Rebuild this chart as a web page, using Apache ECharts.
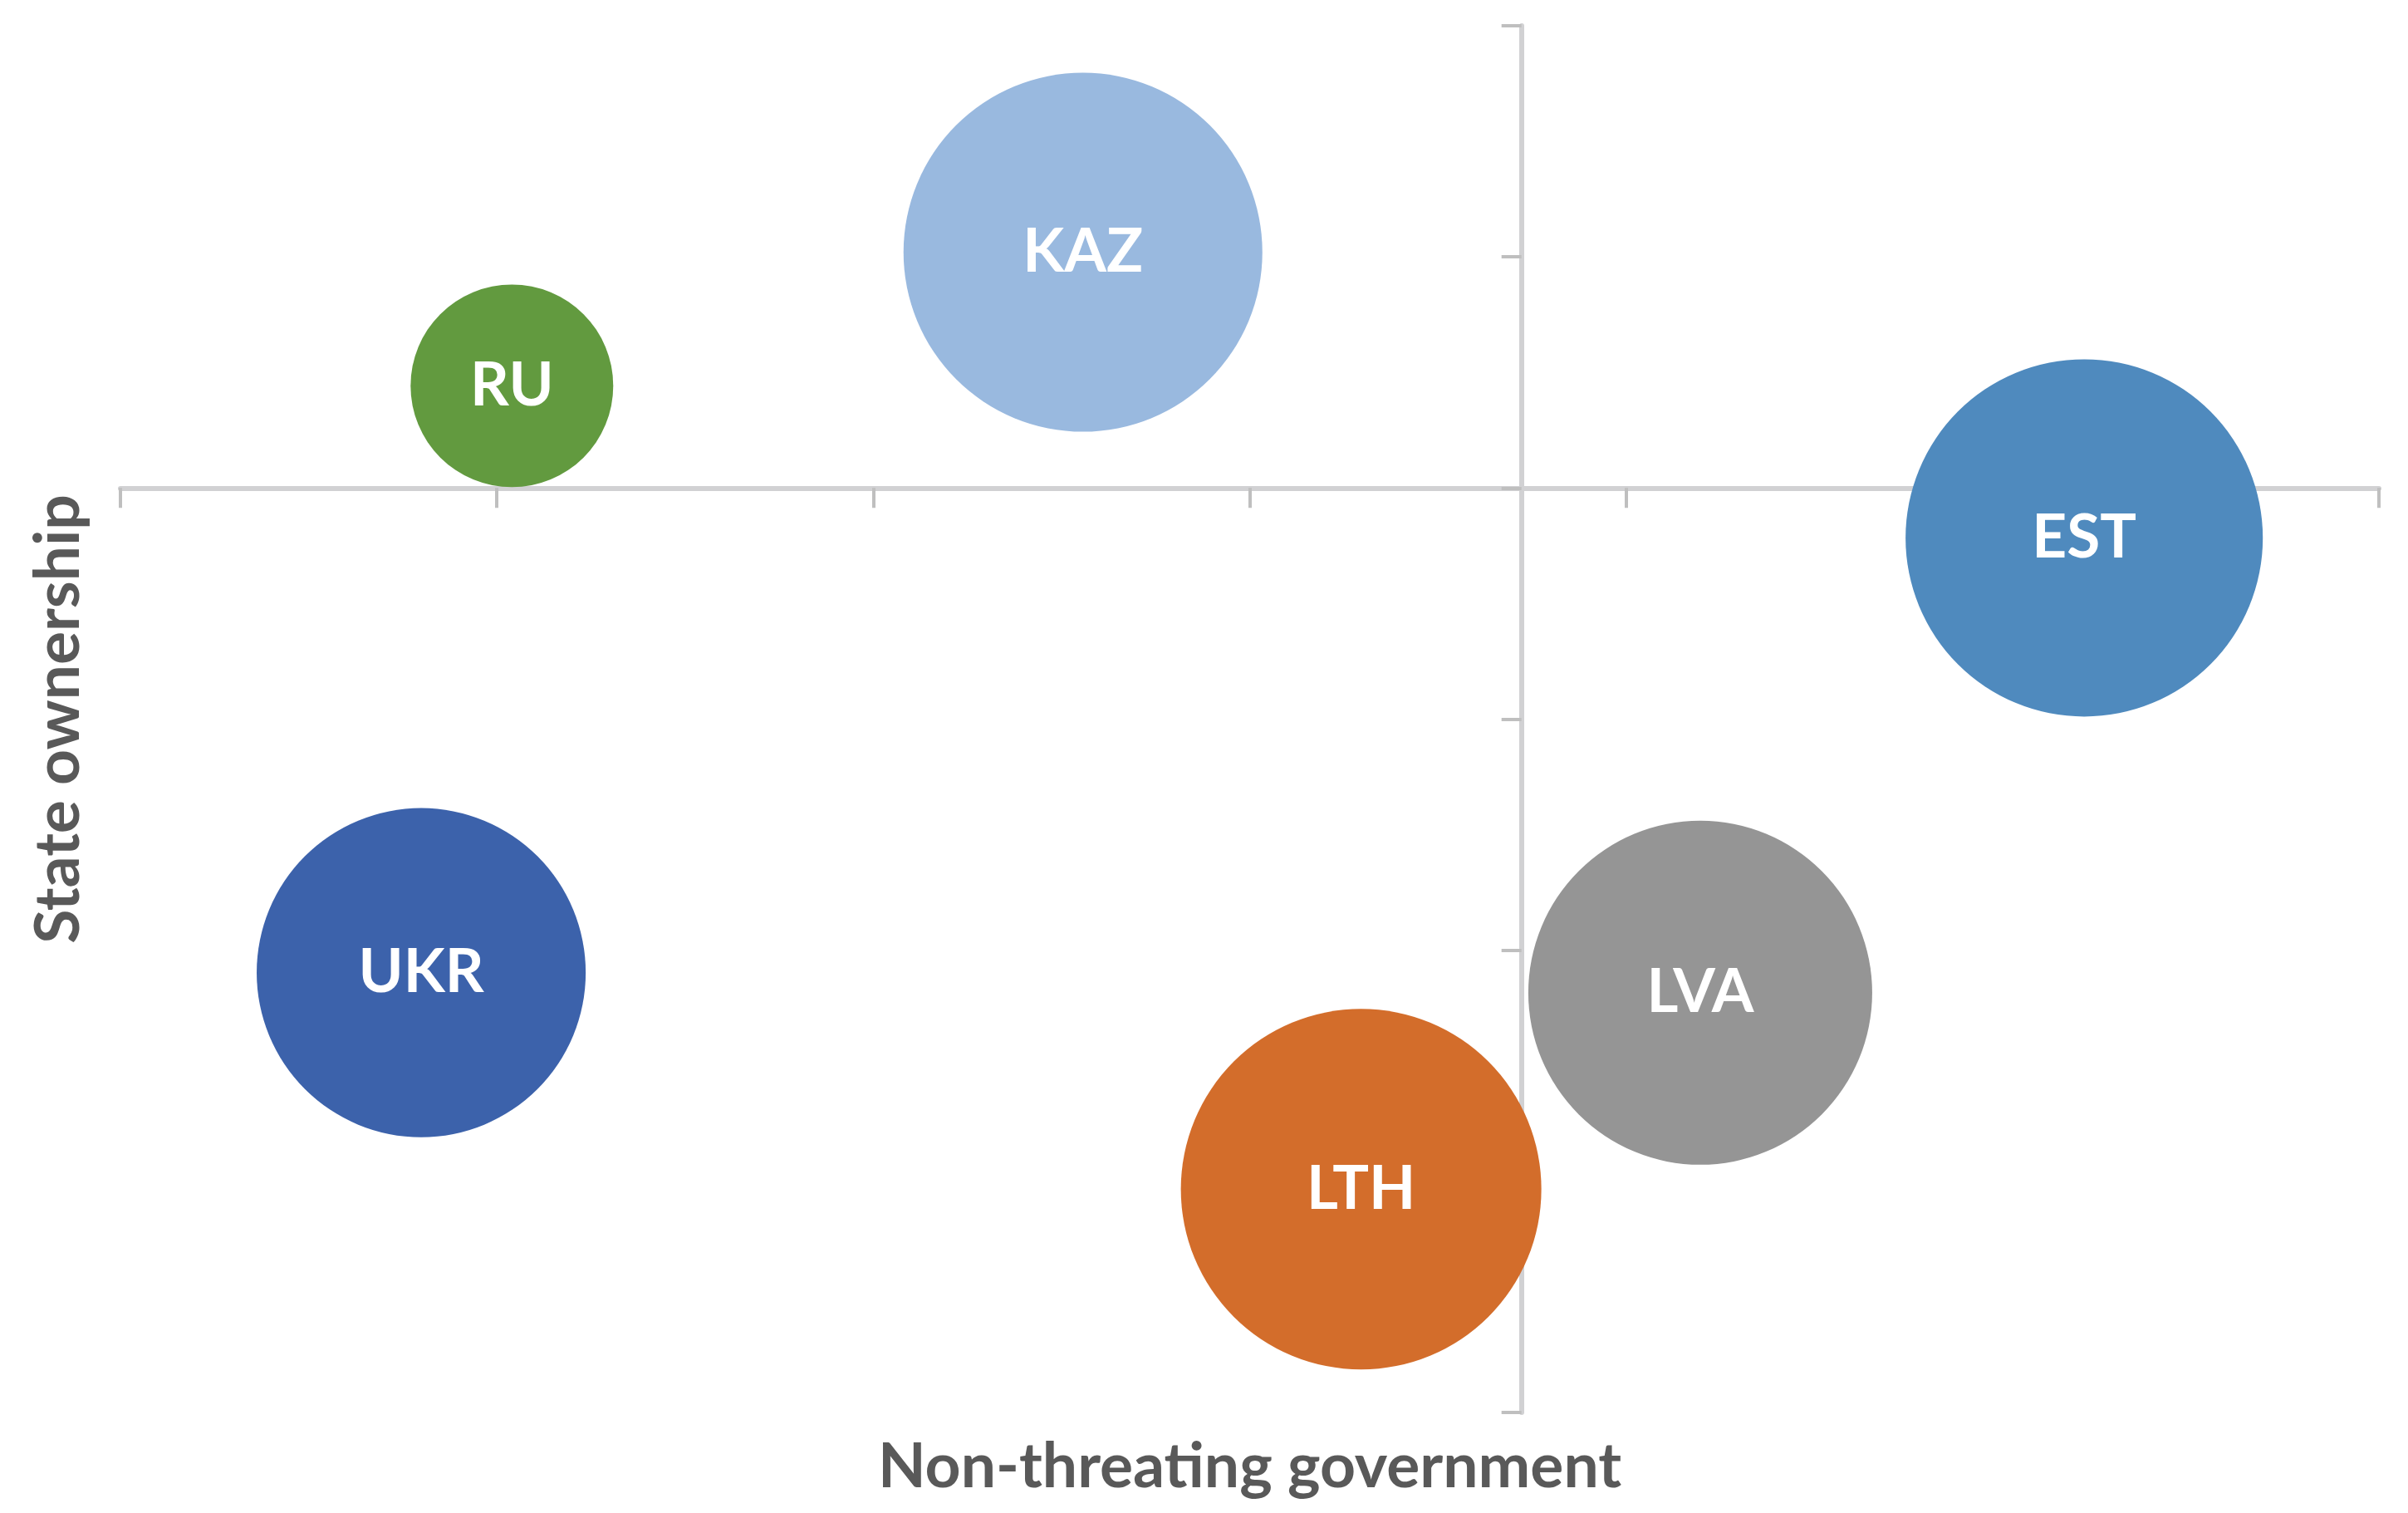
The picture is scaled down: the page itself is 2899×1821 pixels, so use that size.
<!DOCTYPE html>
<html><head><meta charset="utf-8">
<script src="https://cdn.jsdelivr.net/npm/echarts@6/dist/echarts.min.js"></script>
<style>html,body{margin:0;padding:0;background:#fff}#c{width:2899px;height:1821px}
#fp{position:absolute;left:-9999px;top:0;font-family:Lato;font-weight:bold;font-size:73px}</style>
</head><body><div id="fp">Non-threating government UKR</div><div id="c"></div>
<script>
// ---- data ----
const countries = ['RU', 'KAZ', 'EST', 'UKR', 'LVA', 'LTH'];
const xValues = [1.04, 2.557, 5.217, 0.799, 4.197, 3.296];      // Non-threating government
const yValues = [0.442, 1.02, -0.216, -2.097, -2.184, -3.034];  // State ownership
const bubbleSizes = [3.16, 9.91, 9.82, 8.33, 9.10, 10];          // bubble area values
const colors = ['#629A3F', '#99B9DF', '#4F8ABE', '#3C62AB', '#959595', '#D36D2B'];
const xRange = [0, 6];
const xInterval = 1;
const xCross = 3.722;   // x value where the vertical axis crosses
const yRange = [-4, 2];
const yInterval = 1;    // horizontal axis crosses at y = 0
const xTitle = 'Non-threating government';
const yTitle = 'State ownership';

// ---- layout ----
const grid = { left: 145, top: 31, width: 2719, height: 1669, containLabel: false, outerBoundsMode: 'none' };
const maxBubbleDiameter = 434;
const maxSize = Math.max(...bubbleSizes);
const yAxisShift = grid.width * (xCross - xRange[0]) / (xRange[1] - xRange[0]);

const axisLineStyle = { color: '#D1D1D3', width: 6 };
const tickStyle = { show: true, length: 24, lineStyle: { color: '#BFBFBF', width: 4 } };
const fontFam = 'Lato, "Open Sans", sans-serif';

function render() {
  const chart = echarts.init(document.getElementById('c'), null, { renderer: 'canvas' });
  chart.setOption({
    animation: false,
    backgroundColor: '#ffffff',
    grid: grid,
    xAxis: {
      type: 'value', min: xRange[0], max: xRange[1], interval: xInterval,
      axisLine: { show: true, onZero: true, lineStyle: axisLineStyle },
      axisTick: tickStyle,
      axisLabel: { show: false },
      splitLine: { show: false }
    },
    yAxis: {
      type: 'value', min: yRange[0], max: yRange[1], interval: yInterval,
      position: 'left', offset: -yAxisShift,
      axisLine: { show: true, onZero: false, lineStyle: axisLineStyle },
      axisTick: tickStyle,
      axisLabel: { show: false },
      splitLine: { show: false }
    },
    graphic: [
      {
        type: 'text', x: grid.left + grid.width / 2, y: 1766, silent: true,
        style: {
          text: xTitle, fill: '#595959', fontFamily: fontFam, fontWeight: 'bold', fontSize: 75,
          align: 'center', verticalAlign: 'middle', textAlign: 'center', textVerticalAlign: 'middle'
        }
      },
      {
        type: 'text', x: 71, y: grid.top + grid.height / 2, rotation: Math.PI / 2, silent: true,
        style: {
          text: yTitle, fill: '#595959', fontFamily: fontFam, fontWeight: 'bold', fontSize: 75,
          align: 'center', verticalAlign: 'middle', textAlign: 'center', textVerticalAlign: 'middle'
        }
      }
    ],
    series: [{
      type: 'scatter',
      symbol: 'circle',
      symbolSize: function (val) { return maxBubbleDiameter * Math.sqrt(val[2] / maxSize); },
      emphasis: { disabled: true },
      label: {
        show: true, position: 'inside',
        formatter: function (p) { return p.name; },
        fontFamily: fontFam, fontWeight: 'bold', fontSize: 73, color: '#ffffff'
      },
      data: countries.map(function (c, i) {
        return { name: c, value: [xValues[i], yValues[i], bubbleSizes[i]], itemStyle: { color: colors[i], opacity: 1 } };
      })
    }]
  });
}

let done = false;
function go() { if (!done) { done = true; render(); } }
if (document.fonts && document.fonts.load) {
  document.fonts.load('bold 73px Lato').then(go, go);
  setTimeout(go, 800);
} else { go(); }
</script>
</body></html>
